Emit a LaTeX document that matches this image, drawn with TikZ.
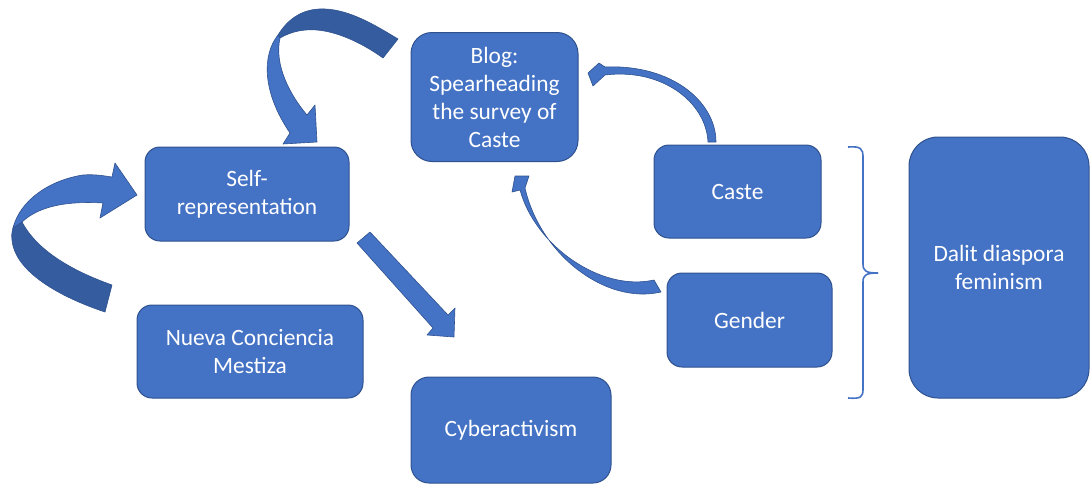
\documentclass[tikz,border=0pt]{standalone}
\usepackage{fontspec}
\setmainfont{Carlito}
\definecolor{boxblue}{HTML}{4472C4}
\definecolor{boxline}{HTML}{2F528F}
\definecolor{darkblue}{HTML}{355C9E}
\begin{document}
\begin{tikzpicture}[x=1pt,y=-1pt,
  box/.style={draw=boxline, line width=1pt, fill=boxblue, text=white, align=center,
    font=\fontsize{23.4}{28}\selectfont, inner sep=0pt},
  lightpart/.style={fill=boxblue, draw=boxline, line width=0.6pt, line join=round},
  darkpart/.style={fill=darkblue, draw=boxline, line width=0.6pt, line join=round},
  bracket/.style={draw=boxblue, line width=1.6pt}]
\useasboundingbox (0,0) rectangle (1091,485);

% boxes
\node[box, minimum width=167pt, minimum height=129pt, rounded corners=21pt] (blog) at (494.5,97) {Blog:\\Spearheading\\the survey of\\Caste};
\node[box, minimum width=204pt, minimum height=94pt, rounded corners=15pt] (self) at (247,194) {Self-\\representation};
\node[box, minimum width=226pt, minimum height=93pt, rounded corners=15pt] (nueva) at (250,351.5) {Nueva Conciencia\\Mestiza};
\node[box, minimum width=200pt, minimum height=106pt, rounded corners=18pt] (cyber) at (511,430) {Cyberactivism};
\node[box, minimum width=167pt, minimum height=93pt, rounded corners=15pt] (caste) at (737.5,191.5) {Caste};
\node[box, minimum width=165pt, minimum height=94pt, rounded corners=15pt] (gender) at (749.5,320) {Gender};
\node[box, minimum width=180pt, minimum height=261pt, rounded corners=29pt] (dalit) at (999,267.5) {Dalit diaspora\\feminism};

% top curved block arrow (blog -> self)
\path[darkpart] (398,39) .. controls (375,25) and (350,10) .. (325,9)
  .. controls (305,8) and (289,17) .. (278,35) -- (280,38)
  .. controls (292,31) and (305,29) .. (317,30)
  .. controls (340,32) and (365,45) .. (383,58) -- cycle;
\path[lightpart] (278,35) .. controls (262,55) and (262,92) .. (290,133)
  -- (283,144) -- (317,142) -- (315,105) -- (307,115)
  .. controls (290,95) and (274,65) .. (280,38) -- cycle;

% left curved block arrow (loop into self)
\path[darkpart] (112,285) -- (105,312) .. controls (60,297) and (15,272) .. (12,240)
  .. controls (11,232) and (13,226) .. (16,222) -- (22,222)
  .. controls (37,250) and (70,270) .. (112,285) -- cycle;
\path[lightpart] (13,228) .. controls (20,200) and (50,180) .. (83,175)
  .. controls (95,174) and (105,176) .. (112,177) -- (115,163) -- (137,195)
  -- (100,218) -- (103,203) .. controls (70,201) and (40,205) .. (22,222) -- cycle;

% straight block arrow (self -> cyber)
\path[lightpart] (357,243) -- (370,232) -- (448,315) -- (455,308) -- (454,337)
  -- (427,335) -- (433,328) -- cycle;

% thin curved arrow caste -> blog
\path[lightpart] (716,142) .. controls (716,102) and (672,64) .. (605,67)
  -- (599,63) -- (588,73) -- (593,86) -- (605,75)
  .. controls (662,68) and (706,102) .. (708,142) -- cycle;

% thin curved arrow gender -> blog
\path[lightpart] (654,280) .. controls (600,292) and (535,245) .. (520,190)
  -- (512,192) -- (515,176) -- (529,176) -- (525,188)
  .. controls (540,254) and (605,305) .. (661,292) -- cycle;

% bracket
\path[bracket] (848,147) .. controls (861,146) and (863,149) .. (863,157) -- (863,264)
  .. controls (863,271) and (866,273) .. (878,273);
\path[bracket] (878,273) .. controls (866,273) and (863,275) .. (863,282) -- (863,389)
  .. controls (863,397) and (861,399) .. (848,398);
\end{tikzpicture}
\end{document}
